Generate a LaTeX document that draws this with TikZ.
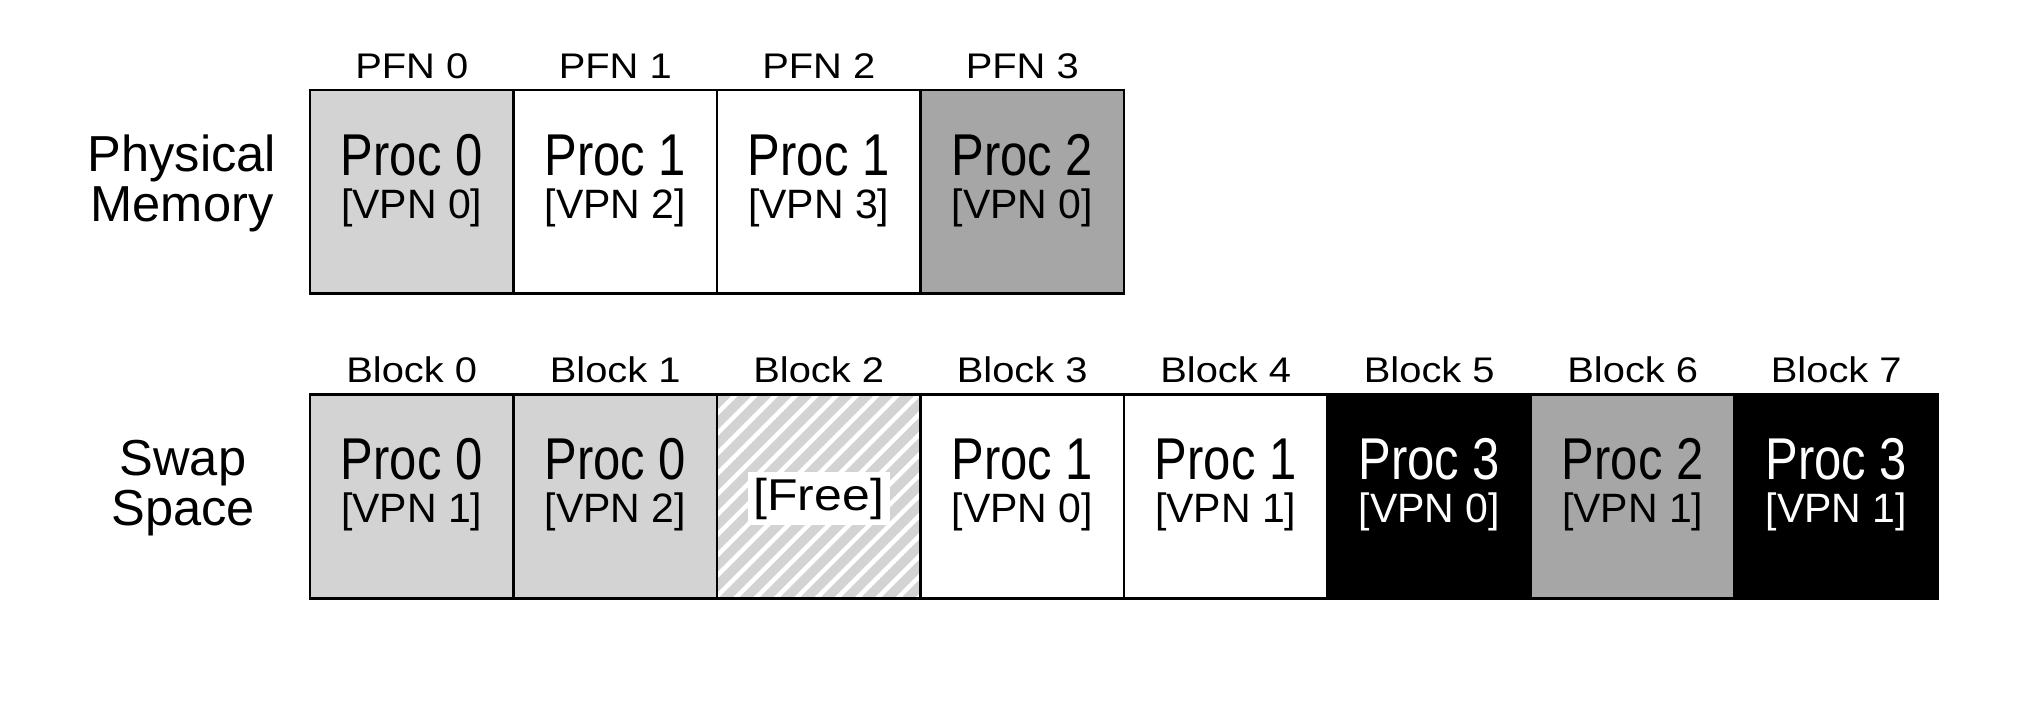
\documentclass[tikz,border=0pt]{standalone}
\usepackage{fontspec}
\setmainfont{Liberation Sans}
\newfontfamily\procfont{Liberation Sans}[FakeStretch=0.83]
\newfontfamily\widefont{Liberation Sans}[FakeStretch=1.12]
\definecolor{lg}{RGB}{211,211,211}
\definecolor{mg}{RGB}{166,166,166}
\tikzset{
 cellbox/.style={minimum width=101.75pt, minimum height=101.75pt, inner sep=0pt, outer sep=0pt},
 border/.style={line width=1.4pt, draw=black},
 proctext/.style={anchor=base, inner sep=0pt, font=\procfont\fontsize{29.5}{31}\selectfont},
 vpntext/.style={anchor=base, inner sep=0pt, font=\fontsize{20.5}{22}\selectfont},
 lbltext/.style={anchor=base, inner sep=0pt, font=\widefont\fontsize{17.8}{19}\selectfont},
 sidetext/.style={anchor=base, inner sep=0pt, font=\fontsize{25.3}{27}\selectfont},
}
\begin{document}
\begin{tikzpicture}[x=0.5pt, y=-0.5pt]
\useasboundingbox (0,0) rectangle (2042,712);
% ---- physical memory cells
\node[cellbox, fill=lg] (p0) at (411.75,191.75) {};
\node[cellbox, fill=white] (p1) at (615.25,191.75) {};
\node[cellbox, fill=white] (p2) at (818.75,191.75) {};
\node[cellbox, fill=mg] (p3) at (1022.25,191.75) {};
% ---- swap cells
\node[cellbox, fill=lg] (s0) at (411.75,496.5) {};
\node[cellbox, fill=lg] (s1) at (615.25,496.5) {};
\node[cellbox] (s2) at (818.75,496.5) {};
\node[cellbox, fill=white] (s3) at (1022.25,496.5) {};
\node[cellbox, fill=white] (s4) at (1225.75,496.5) {};
\node[cellbox, fill=black] (s5) at (1429.25,496.5) {};
\node[cellbox, fill=mg] (s6) at (1632.75,496.5) {};
\node[cellbox, fill=black] (s7) at (1836.25,496.5) {};
% ---- hatch of free block
\begin{scope}
\clip (s2.north west) rectangle (s2.south east);
\foreach \k in {0,...,22} \draw[lg, line width=4.8pt] ({480+20.3*\k},620) -- ++(260,-260);
\end{scope}
% ---- borders
\foreach \n in {p0,p1,p2,p3,s0,s1,s2,s3,s4,s5,s6,s7}
  \draw[border] (\n.north west) rectangle (\n.south east);
% ---- column labels
\node[lbltext] (l0) at (411.75,78) {PFN 0};
\node[lbltext] (l1) at (615.25,78) {PFN 1};
\node[lbltext] (l2) at (818.75,78) {PFN 2};
\node[lbltext] (l3) at (1022.25,78) {PFN 3};
\node[lbltext] (b0) at (411.75,382) {Block 0};
\node[lbltext] (b1) at (615.25,382) {Block 1};
\node[lbltext] (b2) at (818.75,382) {Block 2};
\node[lbltext] (b3) at (1022.25,382) {Block 3};
\node[lbltext] (b4) at (1225.75,382) {Block 4};
\node[lbltext] (b5) at (1429.25,382) {Block 5};
\node[lbltext] (b6) at (1632.75,382) {Block 6};
\node[lbltext] (b7) at (1836.25,382) {Block 7};
% ---- side labels
\node[sidetext] (pm1) at (182,171) {Physical};
\node[sidetext] (pm2) at (182,221) {Memory};
\node[sidetext] (ss1) at (183,475) {Swap};
\node[sidetext] (ss2) at (183,525) {Space};
% ---- cell texts, physical memory
\node[proctext] (p0a) at (411.75,175) {Proc 0};
\node[vpntext] (p0b) at (411.75,218) {[VPN 0]};
\node[proctext] (p1a) at (615.25,175) {Proc 1};
\node[vpntext] (p1b) at (615.25,218) {[VPN 2]};
\node[proctext] (p2a) at (818.75,175) {Proc 1};
\node[vpntext] (p2b) at (818.75,218) {[VPN 3]};
\node[proctext] (p3a) at (1022.25,175) {Proc 2};
\node[vpntext] (p3b) at (1022.25,218) {[VPN 0]};
% ---- cell texts, swap
\node[proctext] (s0a) at (411.75,479.5) {Proc 0};
\node[vpntext] (s0b) at (411.75,522.5) {[VPN 1]};
\node[proctext] (s1a) at (615.25,479.5) {Proc 0};
\node[vpntext] (s1b) at (615.25,522.5) {[VPN 2]};
\node[fill=white, inner sep=0pt, minimum width=71pt, minimum height=26.5pt, font=\widefont\fontsize{22.3}{24}\selectfont] (s2a) at (818.75,498.5) {[Free]};
\node[proctext] (s3a) at (1022.25,479.5) {Proc 1};
\node[vpntext] (s3b) at (1022.25,522.5) {[VPN 0]};
\node[proctext] (s4a) at (1225.75,479.5) {Proc 1};
\node[vpntext] (s4b) at (1225.75,522.5) {[VPN 1]};
\node[proctext, text=white] (s5a) at (1429.25,479.5) {Proc 3};
\node[vpntext, text=white] (s5b) at (1429.25,522.5) {[VPN 0]};
\node[proctext] (s6a) at (1632.75,479.5) {Proc 2};
\node[vpntext] (s6b) at (1632.75,522.5) {[VPN 1]};
\node[proctext, text=white] (s7a) at (1836.25,479.5) {Proc 3};
\node[vpntext, text=white] (s7b) at (1836.25,522.5) {[VPN 1]};
\end{tikzpicture}
\end{document}
